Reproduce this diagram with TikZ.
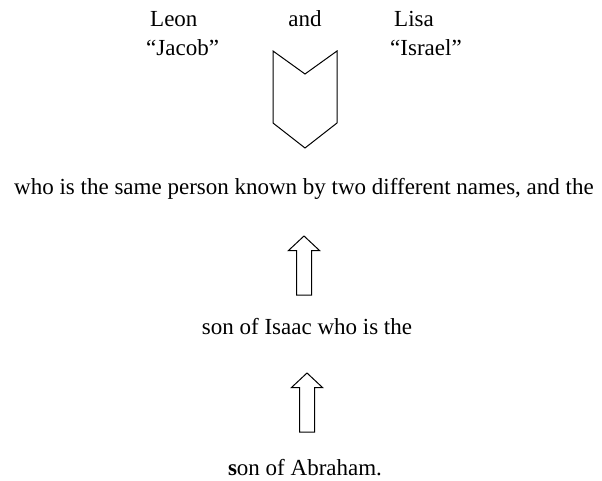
\documentclass[tikz,border=0pt]{standalone}
\usepackage{fontspec}
\setmainfont{Liberation Serif}
\usetikzlibrary{positioning}
\tikzset{
  txt/.style    = {font=\fontsize{23}{28}\selectfont, inner sep=0pt, anchor=base},
  person/.style = {txt, anchor=base west},
  hollow/.style = {draw, line width=1pt, line join=miter}
}

\begin{document}
\begin{tikzpicture}[x=1pt, y=1pt]
  \useasboundingbox (0,0) rectangle (602,-481);
  % the two names
  \node [person] (leon)   at (150,-27) {Leon};
  \node [person] (jacob)  at (146,-56) {“Jacob”};
  \node [txt]    (and)    at (305,-27) {and};
  \node [person] (lisa)   at (394,-27) {Lisa};
  \node [person] (israel) at (390,-56) {“Israel”};
  % chevron under "and"
  \coordinate (notch) at (305,-74);
  \draw [hollow] (notch) -- ++(32,23) -- ++(0,-72) -- ++(-32,-25)
                 -- ++(-32,25) -- ++(0,72) -- cycle;
  % lines of text
  \node [txt] (who)   at (304,-194) {who is the same person known by two different names, and the};
  \node [txt] (isaac) at (307,-334) {son of Isaac who is the};
  \node [txt] (abraham) at (305,-475) {{\bfseries s}on of Abraham.};
  % hollow arrows
  \coordinate [below=42pt of who.base]   (tipA);
  \coordinate [below=39pt of isaac.base] (tipB);
  \foreach \tip in {tipA, tipB}
    \draw [hollow] (\tip) -- ++(15.5,-14.5) -- ++(-8,0) -- ++(0,-44.5)
                   -- ++(-15,0) -- ++(0,44.5) -- ++(-8,0) -- cycle;
\end{tikzpicture}
\end{document}
